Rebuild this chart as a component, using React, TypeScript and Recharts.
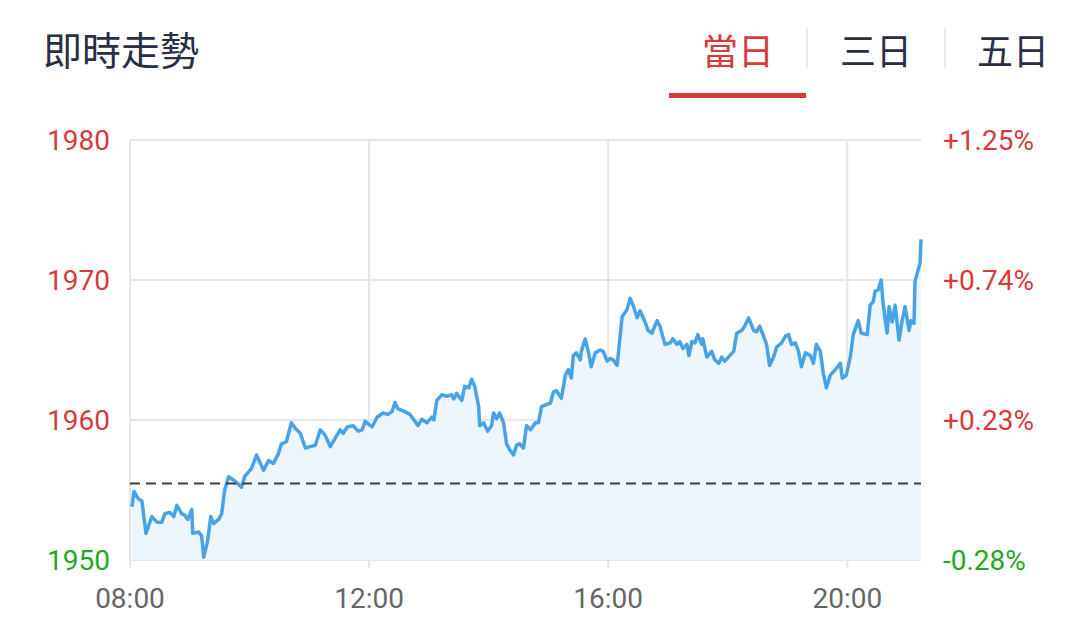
import {
  ComposedChart,
  Area,
  XAxis,
  YAxis,
  CartesianGrid,
  ReferenceLine,
} from "recharts";

// minutes since 08:00
const minutes = [
  2, 4, 8, 12, 16, 22, 27, 32, 35, 40, 44, 47, 52, 55, 58, 62, 63, 69, 72, 74,
  78, 81, 84, 89, 92, 95, 99, 104, 109, 112, 115, 119, 122, 127, 134, 139, 144,
  149, 152, 157, 162, 166, 171, 176, 181, 186, 191, 196, 201, 206, 211, 214,
  218, 224, 229, 233, 236, 243, 248, 254, 259, 263, 266, 269, 276, 281, 289,
  293, 298, 303, 305, 308, 313, 318, 323, 325, 328, 333, 336, 340, 343, 346,
  350, 351, 355, 359, 363, 365, 368, 371, 375, 378, 381, 385, 388, 391, 395,
  398, 402, 407, 410, 413, 418, 422, 425, 428, 433, 437, 440, 443, 445, 448,
  452, 453, 457, 460, 463, 467, 472, 475, 479, 482, 485, 489, 494, 499, 502,
  505, 509, 512, 517, 520, 524, 529, 532, 537, 542, 545, 549, 552, 555, 559,
  561, 564, 567, 570, 574, 575, 579, 584, 587, 591, 594, 597, 602, 606, 609,
  614, 617, 621, 626, 629, 632, 636, 639, 642, 646, 649, 654, 658, 661, 664,
  668, 671, 674, 678, 683, 686, 689, 693, 696, 699, 703, 708, 713, 715, 719,
  723, 726, 729, 731, 734, 740, 743, 746, 748, 751, 754, 756, 760, 762, 765,
  768, 772, 775, 778, 782, 784, 787, 788, 791, 793, 794,
];

const prices = [
  1953.8, 1954.9, 1954.4, 1954.2, 1951.9, 1953.1, 1952.7, 1952.7, 1953.3,
  1953.4, 1953.1, 1953.9, 1953.3, 1953.2, 1952.9, 1953.6, 1951.9, 1952.0,
  1951.7, 1950.2, 1951.4, 1953.1, 1952.6, 1952.9, 1953.3, 1955.0, 1955.95,
  1955.7, 1955.4, 1955.2, 1955.95, 1956.3, 1956.55, 1957.5, 1956.4, 1957.1,
  1956.9, 1957.6, 1958.3, 1958.45, 1959.8, 1959.4, 1959.05, 1958.0, 1958.1,
  1958.2, 1959.3, 1958.9, 1958.1, 1958.7, 1959.3, 1959.05, 1959.5, 1959.6,
  1959.2, 1959.3, 1959.9, 1959.5, 1960.2, 1960.5, 1960.4, 1960.6, 1961.25,
  1960.8, 1960.6, 1960.4, 1959.6, 1960.05, 1959.8, 1960.2, 1960.0, 1961.4,
  1961.8, 1961.7, 1961.8, 1961.5, 1961.9, 1961.4, 1962.4, 1962.3, 1962.9,
  1962.4, 1960.95, 1959.6, 1959.8, 1959.2, 1959.6, 1960.5, 1960.1, 1960.5,
  1959.8, 1958.3, 1957.9, 1957.5, 1958.2, 1958.3, 1958.0, 1959.6, 1959.3,
  1959.8, 1959.8, 1960.95, 1961.1, 1961.2, 1962.0, 1962.1, 1961.55, 1963.2,
  1963.6, 1963.0, 1964.6, 1964.8, 1964.3, 1964.9, 1965.8, 1964.9, 1963.8,
  1964.8, 1965.0, 1964.9, 1964.2, 1964.4, 1964.3, 1963.9, 1967.4, 1967.9,
  1968.7, 1968.2, 1967.3, 1967.8, 1967.0, 1966.4, 1966.2, 1967.1, 1966.7,
  1965.4, 1965.5, 1965.8, 1965.4, 1965.6, 1965.1, 1965.4, 1964.6, 1965.6,
  1965.5, 1966.1, 1965.4, 1965.8, 1964.5, 1964.9, 1964.3, 1964.05, 1964.5,
  1964.2, 1964.6, 1964.9, 1966.2, 1966.4, 1966.7, 1967.3, 1966.4, 1966.3,
  1966.7, 1966.0, 1965.4, 1963.9, 1964.5, 1965.2, 1965.5, 1966.0, 1966.1,
  1965.4, 1965.5, 1964.9, 1963.8, 1964.8, 1964.6, 1964.05, 1965.4, 1964.9,
  1963.3, 1962.3, 1963.2, 1963.6, 1964.05, 1963.0, 1963.2, 1964.5, 1966.1,
  1966.7, 1967.1, 1966.2, 1966.1, 1968.2, 1968.45, 1969.2, 1969.3, 1970.0,
  1968.3, 1966.2, 1968.1, 1967.0, 1968.2, 1965.7, 1967.1, 1968.1, 1966.4,
  1967.1, 1966.9, 1969.9, 1970.7, 1971.2, 1972.9,
];

const prevClose = 1955.47;
const priceTicks = [1950, 1960, 1970, 1980];
const timeTicks = [0, 240, 480, 720];
const tabs = ["當日", "三日", "五日"];

const data = minutes.map((m, i) => ({ t: m, price: prices[i] }));

const RED = "#d63b3b";
const GREEN = "#1fa91f";

function fmtTime(m: number) {
  const h = 8 + Math.floor(m / 60);
  const mm = m % 60;
  return `${String(h).padStart(2, "0")}:${String(mm).padStart(2, "0")}`;
}

function fmtPct(v: number) {
  const p = ((v - prevClose) / prevClose) * 100;
  return `${p >= 0 ? "+" : ""}${p.toFixed(2)}%`;
}

function PriceTick(props: any) {
  const { x, y, payload, textAnchor, pct } = props;
  const v = payload.value as number;
  return (
    <text
      x={x}
      y={y}
      dy="0.355em"
      textAnchor={textAnchor}
      fill={v >= prevClose ? RED : GREEN}
      fontSize={28}
    >
      {pct ? fmtPct(v) : String(v)}
    </text>
  );
}

const tabLeft = [702, 840, 977];

export default function App() {
  return (
    <div
      style={{
        position: "absolute",
        left: 0,
        top: 0,
        width: 1080,
        height: 629,
        background: "#fff",
        fontFamily: "Roboto, 'Noto Sans CJK TC', sans-serif",
      }}
    >
      <div
        style={{
          position: "absolute",
          left: 43,
          top: 27,
          fontSize: 39,
          lineHeight: "42px",
          color: "#2a2f45",
          fontFamily: "'Noto Sans CJK TC', sans-serif",
        }}
      >
        即時走勢
      </div>
      {tabs.map((t, i) => (
        <div
          key={t}
          style={{
            position: "absolute",
            left: tabLeft[i],
            top: 29,
            fontSize: 36,
            lineHeight: "40px",
            color: i === 0 ? RED : "#2a2f45",
            fontFamily: "'Noto Sans CJK TC', sans-serif",
          }}
        >
          {t}
        </div>
      ))}
      <div style={{ position: "absolute", left: 806, top: 28, width: 2, height: 40, background: "#ececec" }} />
      <div style={{ position: "absolute", left: 944, top: 28, width: 2, height: 40, background: "#ececec" }} />
      <div style={{ position: "absolute", left: 669, top: 93, width: 137, height: 5, background: RED }} />

      <ComposedChart
        width={1080}
        height={629}
        data={data}
        margin={{ top: 140, right: 29, bottom: 19, left: 30 }}
      >
        <CartesianGrid
          yAxisId="left"
          stroke="#e6e6e6"
          strokeWidth={2}
          verticalValues={timeTicks}
          horizontalValues={priceTicks}
        />
        <XAxis
          dataKey="t"
          type="number"
          domain={[0, 794]}
          ticks={timeTicks}
          tickFormatter={fmtTime}
          axisLine={false}
          tickLine={{ stroke: "#e6e6e6", strokeWidth: 2 }}
          tickSize={8}
          tickMargin={20}
          height={50}
          tick={{ fill: "#666", fontSize: 28 }}
          interval={0}
        />
        <YAxis
          yAxisId="left"
          domain={[1950, 1980]}
          ticks={priceTicks}
          axisLine={false}
          tickLine={false}
          tickSize={0}
          tickMargin={20}
          width={100}
          tick={(p: any) => <PriceTick {...p} />}
          interval={0}
        />
        <YAxis
          yAxisId="right"
          orientation="right"
          domain={[1950, 1980]}
          ticks={priceTicks}
          axisLine={false}
          tickLine={false}
          tickSize={0}
          tickMargin={22}
          width={130}
          tick={(p: any) => <PriceTick {...p} pct />}
          interval={0}
        />
        <Area
          yAxisId="right"
          type="linear"
          dataKey="price"
          stroke="none"
          fill="none"
          dot={false}
          activeDot={false}
          isAnimationActive={false}
        />
        <Area
          yAxisId="left"
          type="linear"
          dataKey="price"
          stroke="#48a3e6"
          strokeWidth={3.5}
          strokeLinejoin="round"
          fill="#eef6fd"
          fillOpacity={1}
          dot={false}
          activeDot={false}
          isAnimationActive={false}
        />
        <ReferenceLine
          yAxisId="left"
          y={prevClose}
          stroke="#3d3d3d"
          strokeWidth={2}
          strokeDasharray="10 6"
        />
      </ComposedChart>
    </div>
  );
}
